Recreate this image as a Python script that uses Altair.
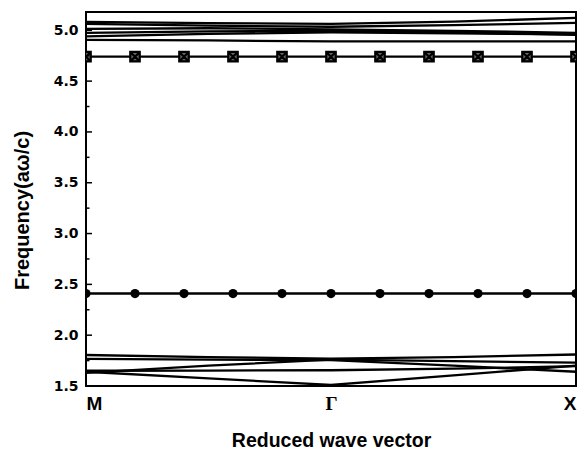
import altair as alt
import pandas as pd

# ---- data ----
x_tick_values = [0, 1, 2]
x_tick_labels = ["M", "Γ", "X"]
band_x = [0, 0.5, 1, 1.5, 2]

top_bands = {
    "t1": [5.083, 5.070, 5.063, 5.085, 5.122],
    "t2": [5.063, 5.045, 5.035, 5.050, 5.073],
    "t3": [5.014, 5.020, 5.010, 4.995, 4.975],
    "t4": [4.974, 4.990, 4.995, 4.980, 4.955],
    "t5": [4.940, 4.965, 4.980, 4.970, 4.960],
    "t6": [4.905, 4.900, 4.890, 4.890, 4.890],
}
bottom_bands = {
    "b1": [1.805, 1.785, 1.770, 1.785, 1.810],
    "b2": [1.766, 1.760, 1.755, 1.700, 1.640],
    "b3": [1.630, 1.700, 1.760, 1.745, 1.730],
    "b4": [1.650, 1.652, 1.655, 1.670, 1.695],
    "b5": [1.640, 1.575, 1.510, 1.605, 1.700],
}
flat_x = [0, 2]
circle_band = 2.41
square_band = 4.74
marker_x = [0, 0.2, 0.4, 0.6, 0.8, 1.0, 1.2, 1.4, 1.6, 1.8, 2.0]
y_major = [1.5, 2.0, 2.5, 3.0, 3.5, 4.0, 4.5, 5.0]
y_minor = [1.75, 2.25, 2.75, 3.25, 3.75, 4.25, 4.75]
y_domain = [1.5, 5.18]

# ---- tables ----
rows = []
for name, vals in {**top_bands, **bottom_bands}.items():
    for xv, fv in zip(band_x, vals):
        rows.append({"band": name, "x": xv, "freq": fv})
for name, f in [("circ", circle_band), ("sq", square_band)]:
    for xv in flat_x:
        rows.append({"band": name, "x": xv, "freq": f})
bands_df = pd.DataFrame(rows)
circ_df = pd.DataFrame({"x": marker_x, "freq": [circle_band] * len(marker_x)})
sq_df = pd.DataFrame({"x": marker_x, "freq": [square_band] * len(marker_x)})
major_df = pd.DataFrame({"freq": y_major})
minor_df = pd.DataFrame({"freq": y_minor})

label_expr = " : ".join(
    [f"datum.value == {v} ? '{l}'" for v, l in zip(x_tick_values[:-1], x_tick_labels[:-1])]
) + f" : '{x_tick_labels[-1]}'"

X = alt.X(
    "x:Q",
    scale=alt.Scale(domain=[0, 2], nice=False, zero=False),
    axis=alt.Axis(
        values=x_tick_values,
        labelExpr=label_expr,
        ticks=False, domain=False, grid=False,
        labelFlush=False,
        labelAlign=alt.ExprRef("datum.value == 0 ? 'left' : datum.value == 2 ? 'right' : 'center'"),
        labelFont=alt.ExprRef("datum.value == 1 ? 'Liberation Serif' : 'Liberation Sans'"),
        labelFontWeight="bold",
        labelFontSize=19,
        labelColor="black",
        labelPadding=8,
        title="Reduced wave vector",
        titleFont="Liberation Sans",
        titleFontSize=19.5,
        titleFontWeight="bold",
        titleColor="black",
        titleY=60,
        titleBaseline="alphabetic",
    ),
)
Y = alt.Y(
    "freq:Q",
    scale=alt.Scale(domain=y_domain, nice=False, zero=False),
    axis=alt.Axis(
        values=y_major,
        format=".1f",
        ticks=False, domain=False, grid=False,
        labelFont="DejaVu Sans",
        labelFontWeight="bold",
        labelFontSize=14,
        labelColor="black",
        labelPadding=8,
        title="Frequency(aω/c)",
        titleFont="Liberation Sans",
        titleFontSize=20,
        titleFontWeight="bold",
        titleColor="black",
        titleX=-64,
        titleY=198,
        titleBaseline="middle",
    ),
)

lines = alt.Chart(bands_df).mark_line(color="black", strokeWidth=2.3, clip=True).encode(
    x=X, y=Y, detail="band:N"
)
circles = alt.Chart(circ_df).mark_point(
    shape="circle", filled=True, color="black", size=85, opacity=1, clip=True
).encode(x=X, y=Y)
squares = alt.Chart(sq_df).mark_point(
    shape="M-1,-1L1,-1L1,1L-1,1Z M-1,-1L1,1 M1,-1L-1,1",
    filled=True, fill="#666666", stroke="black", strokeWidth=2.2, size=90, opacity=1, clip=True
).encode(x=X, y=Y)
major_ticks = alt.Chart(major_df).mark_rule(color="black", strokeWidth=1.5).encode(
    x=alt.value(0), x2=alt.value(6), y=Y
)
minor_ticks = alt.Chart(minor_df).mark_rule(color="black", strokeWidth=1.5).encode(
    x=alt.value(0), x2=alt.value(3.5), y=Y
)

chart = alt.layer(lines, circles, squares, major_ticks, minor_ticks).properties(
    width=490,
    height=374,
    autosize=alt.AutoSizeParams(type="none"),
    padding={"left": 78, "top": 4, "right": 2, "bottom": 64},
    background="white",
).configure_view(stroke="black", strokeWidth=2)

chart.save("out.html", embed_options={"renderer": "svg", "actions": False})
